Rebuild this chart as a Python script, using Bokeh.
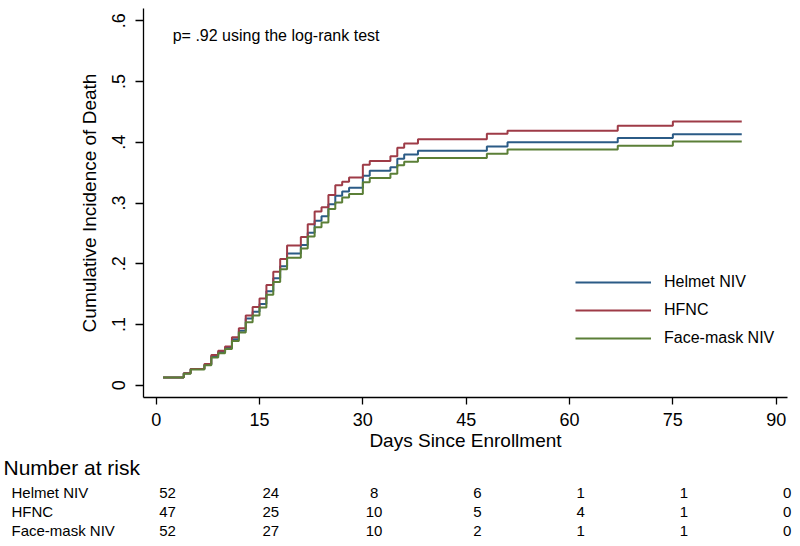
from bokeh.plotting import figure
from bokeh.models import Range1d, FixedTicker, Legend, LegendItem, Label, ColumnDataSource
from bokeh.layouts import column
from bokeh.embed import file_html
from bokeh.resources import INLINE
from bokeh.core.properties import value

# ---------------- data ----------------
days = [1, 4, 5, 7, 8, 9, 10, 11, 12, 13, 14, 15, 16, 17, 18, 19, 21, 22, 23, 24,
        25, 26, 27, 28, 30, 31, 34, 35, 36, 38, 48, 51, 67, 75, 85]
helmet = [0.013, 0.020, 0.027, 0.034, 0.048, 0.055, 0.062, 0.076, 0.090, 0.110,
          0.121, 0.134, 0.155, 0.176, 0.196, 0.217, 0.231, 0.251, 0.271, 0.278,
          0.298, 0.312, 0.319, 0.325, 0.345, 0.353, 0.359, 0.373, 0.380, 0.386,
          0.393, 0.400, 0.407, 0.413, 0.413]
hfnc = [0.013, 0.020, 0.027, 0.035, 0.050, 0.057, 0.064, 0.079, 0.094, 0.115,
        0.129, 0.143, 0.165, 0.187, 0.208, 0.230, 0.244, 0.265, 0.286, 0.293,
        0.313, 0.329, 0.335, 0.342, 0.363, 0.369, 0.377, 0.391, 0.398, 0.405,
        0.414, 0.419, 0.427, 0.434, 0.434]
facemask = [0.013, 0.019, 0.026, 0.033, 0.046, 0.053, 0.060, 0.073, 0.087, 0.104,
            0.115, 0.128, 0.149, 0.170, 0.191, 0.210, 0.225, 0.245, 0.260, 0.268,
            0.290, 0.301, 0.309, 0.315, 0.334, 0.341, 0.348, 0.362, 0.368, 0.374,
            0.381, 0.388, 0.394, 0.401, 0.401]

groups = ["Helmet NIV", "HFNC", "Face-mask NIV"]
risk_days = [0, 15, 30, 45, 60, 75, 90]
risk_helmet = [52, 24, 8, 6, 1, 1, 0]
risk_hfnc = [47, 25, 10, 5, 4, 1, 0]
risk_facemask = [52, 27, 10, 2, 1, 1, 0]

x_ticks = [0, 15, 30, 45, 60, 75, 90]
y_ticks = [0, 0.1, 0.2, 0.3, 0.4, 0.5, 0.6]
y_tick_labels = ["0", ".1", ".2", ".3", ".4", ".5", ".6"]

p_text = "p= .92 using the log-rank test"
x_title = "Days Since Enrollment"
y_title = "Cumulative Incidence of Death"
risk_title = "Number at risk"

FONT = "Liberation Sans"
colors = ["#2b5b86", "#9e3b47", "#5b7f37"]

# ---------------- main chart ----------------
p = figure(width=800, height=453, x_range=Range1d(-1.84, 91.64),
           y_range=Range1d(-0.02, 0.62), output_backend="svg",
           toolbar_location=None, min_border_left=143, min_border_right=13,
           min_border_top=8, min_border_bottom=56)
p.outline_line_color = None
p.xgrid.visible = False
p.ygrid.visible = False
p.background_fill_color = "white"
p.border_fill_color = "white"

renderers = []
for ys, c in zip([helmet, hfnc, facemask], colors):
    r = p.step(x=days, y=ys, mode="after", line_color=c, line_width=2)
    renderers.append(r)

for ax in (p.xaxis[0], p.yaxis[0]):
    ax.axis_line_color = "black"
    ax.axis_line_width = 1.3
    ax.major_tick_line_color = "black"
    ax.major_tick_line_width = 1.3
    ax.minor_tick_line_color = None
    ax.major_tick_in = 0
    ax.major_label_text_font = FONT
    ax.major_label_text_font_size = "18px"
    ax.major_label_text_color = "black"
    ax.axis_label_text_font = FONT
    ax.axis_label_text_font_size = "19px"
    ax.axis_label_text_font_style = "normal"
    ax.axis_label_text_color = "black"

p.xaxis.ticker = FixedTicker(ticks=x_ticks)
p.xaxis.major_tick_out = 7
p.xaxis.major_label_standoff = 8
p.xaxis.axis_label = x_title
p.xaxis.axis_label_standoff = 1

p.yaxis.ticker = FixedTicker(ticks=y_ticks)
p.yaxis.major_label_overrides = {t: l for t, l in zip(y_ticks, y_tick_labels)}
p.yaxis.major_label_orientation = "vertical"
p.yaxis.major_tick_out = 8
p.yaxis.major_label_standoff = 11
p.yaxis.axis_label = y_title
p.yaxis.axis_label_standoff = 9

p.add_layout(Label(x=2.4, y=0.5754, text=p_text, text_font=FONT,
                   text_font_size="16px", text_baseline="middle",
                   text_color="black"))

legend = Legend(items=[LegendItem(label=g, renderers=[r]) for g, r in zip(groups, renderers)],
                location=(432, 49), glyph_width=76, glyph_height=20,
                label_height=20, label_standoff=13, spacing=8, padding=0,
                margin=0, border_line_color=None, background_fill_alpha=0,
                label_text_font=FONT, label_text_font_size="16px",
                label_text_color="black")
p.add_layout(legend)

# ---------------- number at risk table ----------------
t = figure(width=800, height=93, x_range=Range1d(-24.26, 91.94),
           y_range=Range1d(3.842, -1.053), output_backend="svg",
           toolbar_location=None, min_border=0,
           x_axis_location=None, y_axis_location=None)
t.outline_line_color = None
t.xgrid.visible = False
t.ygrid.visible = False

for fig in (p, t):
    try:
        fig.frame_align = False
    except Exception:
        pass

t.text(x=[-24.26], y=[-0.32], text=[risk_title], x_offset=3,
       text_font=value(FONT), text_font_size="21px", text_align="left",
       text_baseline="middle", text_color="black")
t.text(x=[-24.26] * 3, y=[1, 2, 3], text=groups, x_offset=11,
       text_font=value(FONT), text_font_size="15px", text_align="left",
       text_baseline="middle", text_color="black")
for i, counts in enumerate([risk_helmet, risk_hfnc, risk_facemask]):
    src = ColumnDataSource(dict(x=risk_days, y=[i + 1] * len(risk_days),
                                txt=[str(c) for c in counts]))
    t.text(x="x", y="y", text="txt", source=src, text_font=value(FONT),
           text_font_size="15px", text_align="center", text_baseline="middle",
           text_color="black")

layout = column(p, t, spacing=0)
open("out.html", "w").write(file_html(layout, INLINE))
